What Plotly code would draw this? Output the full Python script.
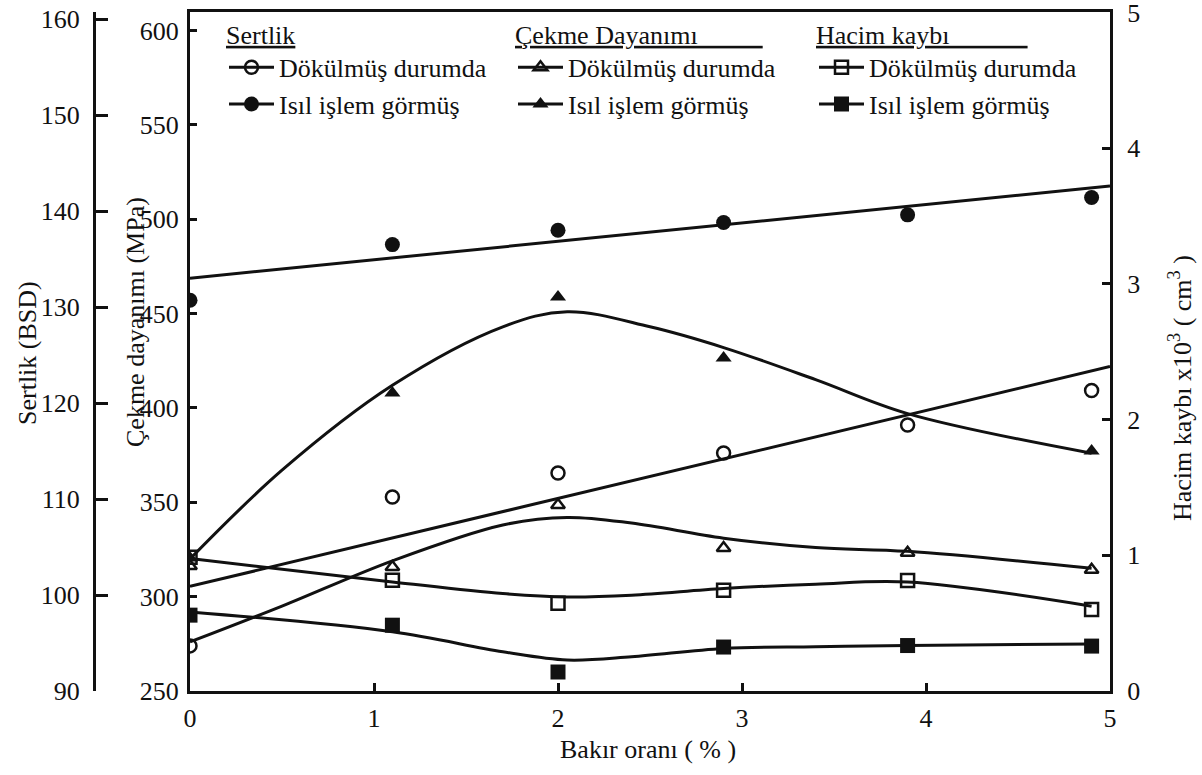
import plotly.graph_objects as go

# ---------------- data ----------------
cu = [0, 1.1, 2.0, 2.9, 3.9, 4.9]                      # Bakır oranı (%)

# Sertlik (BSD)
sertlik_dokum = [94.7, 110.2, 112.7, 114.8, 117.7, 121.3]
sertlik_isil = [130.7, 136.5, 138.0, 138.8, 139.6, 141.4]
# Çekme dayanımı (MPa)
cekme_dokum = [316.2, 315.7, 348.6, 325.8, 323.3, 314.2]
cekme_isil = [320.5, 407.9, 458.8, 426.5, None, 377.2]
# Hacim kaybı x10^3 (cm^3)
hacim_dokum = [0.985, 0.816, 0.647, 0.743, 0.815, 0.600]
hacim_isil = [0.559, 0.485, 0.140, 0.324, 0.335, 0.331]

# drawn trend curves
sertlik_dokum_fit_x = [0, 5]
sertlik_dokum_fit = [100.9, 123.8]
sertlik_isil_fit_x = [0, 5]
sertlik_isil_fit = [133.0, 142.6]
cekme_isil_fit_x = [0, 0.5, 1.1, 1.7, 2.05, 2.5, 2.9, 3.4, 3.9, 4.9]
cekme_isil_fit = [320, 367, 412, 443, 451, 443, 432, 415, 397, 376]
cekme_dokum_fit_x = [0, 0.5, 1.1, 1.7, 2.05, 2.4, 2.9, 3.4, 3.9, 4.9]
cekme_dokum_fit = [276, 295, 319, 338, 342, 339, 331, 326, 324, 315]
hacim_dokum_fit_x = [0, 1.1, 1.7, 2.05, 2.4, 2.9, 3.4, 3.9, 4.9]
hacim_dokum_fit = [0.976, 0.804, 0.718, 0.693, 0.706, 0.755, 0.787, 0.803, 0.625]
hacim_isil_fit_x = [0, 1.1, 1.7, 2.05, 2.4, 2.9, 3.4, 3.9, 4.9]
hacim_isil_fit = [0.583, 0.436, 0.289, 0.228, 0.252, 0.314, 0.326, 0.335, 0.347]

x_ticks = [0, 1, 2, 3, 4, 5]
sertlik_ticks = [90, 100, 110, 120, 130, 140, 150, 160]
cekme_ticks = [250, 300, 350, 400, 450, 500, 550, 600]
hacim_ticks = [0, 1, 2, 3, 4, 5]

labels = ["Dökülmüş durumda", "Isıl işlem görmüş"]

# ---------------- style ----------------
FONT = "Liberation Serif"
BLACK = "#111111"
LW = 3


def isolated(xs, ys):
    """Interleave gaps so each point stands alone (legend shows line+marker)."""
    ox, oy = [], []
    for a, b in zip(xs, ys):
        ox += [a, None]
        oy += [b, None]
    return ox, oy


fig = go.Figure()

series = [
    # (values, fit_x, fit_y, yaxis, legend, name, symbol, size, lw)
    (sertlik_dokum, sertlik_dokum_fit_x, sertlik_dokum_fit, "y3", "legend", labels[0], "circle-open", 13, 2.5),
    (sertlik_isil, sertlik_isil_fit_x, sertlik_isil_fit, "y3", "legend", labels[1], "circle", 15, 0),
    (cekme_dokum, cekme_dokum_fit_x, cekme_dokum_fit, "y", "legend2", labels[0], "triangle-up-open", 12, 2.5),
    (cekme_isil, cekme_isil_fit_x, cekme_isil_fit, "y", "legend2", labels[1], "triangle-up", 14, 0),
    (hacim_dokum, hacim_dokum_fit_x, hacim_dokum_fit, "y2", "legend3", labels[0], "square-open", 13, 2.5),
    (hacim_isil, hacim_isil_fit_x, hacim_isil_fit, "y2", "legend3", labels[1], "square", 15, 0),
]

for vals, fx, fy, ya, lg, name, sym, size, mlw in series:
    fig.add_trace(go.Scatter(
        x=fx, y=fy, yaxis=ya, mode="lines",
        line=dict(color=BLACK, width=LW, shape="spline", smoothing=1.0),
        showlegend=False, hoverinfo="skip"))
    px, py = isolated(cu, vals)
    fig.add_trace(go.Scatter(
        x=px, y=py, yaxis=ya, mode="lines+markers", name=name, legend=lg,
        line=dict(color=BLACK, width=LW),
        marker=dict(symbol=sym, size=size, color=BLACK,
                    line=dict(color=BLACK, width=mlw)),
        connectgaps=False))

# ---------------- layout ----------------
# plot area: x 190..1110 px, y 12..691 px ; paper spans x 60..1202 px
L, R, T, B = 60, 0, 12, 84
W, H = 1202, 775
PW = W - L - R
PH = H - T - B


def px2x(p):
    return (p - L) / PW


def py2y(p):
    return (H - B - p) / PH


tickfont = dict(family=FONT, size=26, color=BLACK)
axis_common = dict(showgrid=False, zeroline=False, showline=True, automargin=False,
                   linecolor=BLACK, linewidth=3, ticks="inside",
                   tickcolor=BLACK, tickwidth=2.5, tickfont=tickfont,
                   ticklabeloverflow="allow")

legend_common = dict(xanchor="left", yanchor="top", font=dict(family=FONT, size=26),
                     bgcolor="rgba(0,0,0,0)", itemwidth=45, traceorder="normal")

fig.update_layout(
    width=W, height=H,
    margin=dict(l=L, r=R, t=T, b=B),
    paper_bgcolor="white", plot_bgcolor="white",
    font=dict(family=FONT, size=26, color=BLACK),
    xaxis=dict(domain=[px2x(190), px2x(1110)], range=[0, 5], tickvals=x_ticks,
               ticklen=8, mirror=True, ticklabelstandoff=2, **axis_common),
    yaxis=dict(range=[250, 250 + 679 / 1.887], tickvals=cekme_ticks,
               ticklen=7, ticklabelstandoff=3, **axis_common),
    yaxis2=dict(overlaying="y", side="right", anchor="x", range=[0, 5.004],
                tickvals=hacim_ticks, ticklen=8, ticklabelstandoff=9,
                **axis_common),
    yaxis3=dict(overlaying="y", side="left", anchor="free",
                position=px2x(94), range=[90, 90 + 679 / 9.6],
                tickvals=sertlik_ticks, ticklen=12, ticklabelstandoff=8,
                **axis_common),
    legend=dict(x=px2x(224), y=py2y(10),
                title=dict(text="<u>Sertlik</u>", font=dict(family=FONT, size=26)),
                **legend_common),
    legend2=dict(x=px2x(513), y=py2y(10),
                 title=dict(text="<u>Çekme Dayanımı" + "&nbsp;" * 10 + "</u>",
                            font=dict(family=FONT, size=26)),
                 **legend_common),
    legend3=dict(x=px2x(814), y=py2y(10),
                 title=dict(text="<u>Hacim kaybı" + "&nbsp;" * 12 + "</u>",
                            font=dict(family=FONT, size=26)),
                 **legend_common),
)

title_font = dict(family=FONT, size=26, color=BLACK)
ann = dict(xref="paper", yref="paper", showarrow=False, font=title_font,
           xanchor="center", yanchor="middle")
fig.add_annotation(text="Sertlik (BSD)", textangle=-90, x=px2x(27), y=py2y(353), **ann)
fig.add_annotation(text="Çekme dayanımı (MPa)", textangle=-90, x=px2x(135), y=py2y(322), **ann)
fig.add_annotation(text="Hacim kaybı x10<sup>3</sup> ( cm<sup>3</sup> )", textangle=-90,
                   x=px2x(1180), y=py2y(388), **ann)
fig.add_annotation(text="Bakır oranı ( % )", x=px2x(648), y=py2y(750), **ann)

fig.write_html(
    "out.html",
    config={"displayModeBar": False},
    post_script="document.body.style.margin='0';document.body.style.overflow='hidden';",
)
